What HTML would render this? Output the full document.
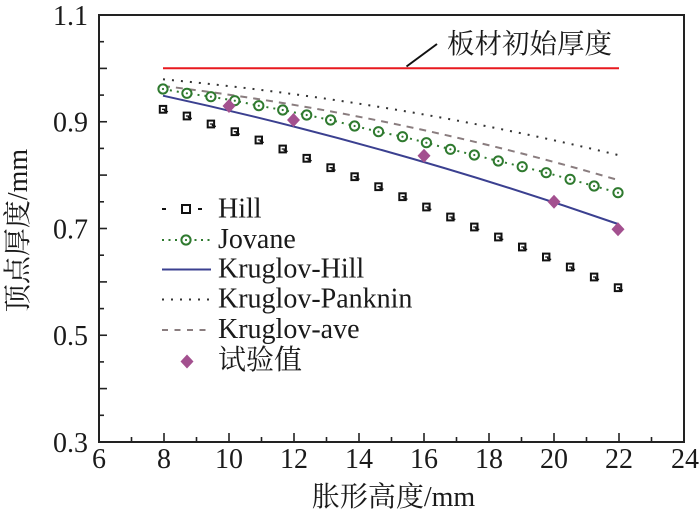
<!DOCTYPE html>
<html><head><meta charset="utf-8"><style>
html,body{margin:0;padding:0;background:#fff;}
svg{display:block;}
svg text{font-family:"Liberation Serif","Noto Serif CJK SC","DejaVu Serif",serif;fill:#1a1a1a;}
</style></head><body>
<svg width="700" height="517" viewBox="0 0 700 517" xmlns="http://www.w3.org/2000/svg" font-family="'Liberation Serif','Noto Serif CJK SC','DejaVu Serif',serif">
<rect width="700" height="517" fill="#fff"/>
<!-- red initial thickness line -->
<line x1="163" y1="68.3" x2="619" y2="68.3" stroke="#e8191f" stroke-width="2"/>
<line x1="406.5" y1="66.5" x2="437" y2="44" stroke="#111" stroke-width="2"/>
<text x="447" y="53" font-size="27.5">板材初始厚度</text>

<!-- Kruglov-Panknin dotted -->
<path d="M163,79.3 Q390.5,100.39 618,155" fill="none" stroke="#333" stroke-width="2" stroke-dasharray="2 7"/>
<!-- Kruglov-ave dashed -->
<path d="M163,86 Q390.5,113.12 618,180" fill="none" stroke="#8a7d7f" stroke-width="2" stroke-dasharray="7 6"/>
<!-- Kruglov-Hill solid -->
<path d="M163,95.7 Q390.5,145.14 618,224" fill="none" stroke="#3b4090" stroke-width="2"/>

<!-- Jovane dotted + circles -->
<g>
<polyline fill="none" stroke="#2f7a2f" stroke-width="2" stroke-dasharray="2 5" points="163,89 186.9,93.3 210.9,96.7 234.8,100.7 258.8,105.7 282.7,110 306.7,115 330.6,120 354.6,126 378.5,131.7 402.5,136.7 426.4,142.7 450.4,149.3 474.3,155 498.3,161 522.2,166.7 546.2,172.7 570.1,179.3 594.1,186 618,192.7"/>
<g fill="#fff" stroke="#2f7a2f" stroke-width="2">
<circle cx="163" cy="89" r="4.6"/><circle cx="186.9" cy="93.3" r="4.6"/><circle cx="210.9" cy="96.7" r="4.6"/><circle cx="234.8" cy="100.7" r="4.6"/><circle cx="258.8" cy="105.7" r="4.6"/><circle cx="282.7" cy="110" r="4.6"/><circle cx="306.7" cy="115" r="4.6"/><circle cx="330.6" cy="120" r="4.6"/><circle cx="354.6" cy="126" r="4.6"/><circle cx="378.5" cy="131.7" r="4.6"/><circle cx="402.5" cy="136.7" r="4.6"/><circle cx="426.4" cy="142.7" r="4.6"/><circle cx="450.4" cy="149.3" r="4.6"/><circle cx="474.3" cy="155" r="4.6"/><circle cx="498.3" cy="161" r="4.6"/><circle cx="522.2" cy="166.7" r="4.6"/><circle cx="546.2" cy="172.7" r="4.6"/><circle cx="570.1" cy="179.3" r="4.6"/><circle cx="594.1" cy="186" r="4.6"/><circle cx="618" cy="192.7" r="4.6"/>
</g>
<g fill="#2f7a2f">
<circle cx="163" cy="89" r="1.1"/><circle cx="186.9" cy="93.3" r="1.1"/><circle cx="210.9" cy="96.7" r="1.1"/><circle cx="234.8" cy="100.7" r="1.1"/><circle cx="258.8" cy="105.7" r="1.1"/><circle cx="282.7" cy="110" r="1.1"/><circle cx="306.7" cy="115" r="1.1"/><circle cx="330.6" cy="120" r="1.1"/><circle cx="354.6" cy="126" r="1.1"/><circle cx="378.5" cy="131.7" r="1.1"/><circle cx="402.5" cy="136.7" r="1.1"/><circle cx="426.4" cy="142.7" r="1.1"/><circle cx="450.4" cy="149.3" r="1.1"/><circle cx="474.3" cy="155" r="1.1"/><circle cx="498.3" cy="161" r="1.1"/><circle cx="522.2" cy="166.7" r="1.1"/><circle cx="546.2" cy="172.7" r="1.1"/><circle cx="570.1" cy="179.3" r="1.1"/><circle cx="594.1" cy="186" r="1.1"/><circle cx="618" cy="192.7" r="1.1"/>
</g>
</g>

<!-- Hill squares -->
<defs>
<g id="sq"><rect x="-3.2" y="-3.4" width="6.4" height="6.8" fill="#fff" stroke="#111" stroke-width="2"/><polyline points="-1,0 1.5,0 1.5,1.5 5,2.5" fill="none" stroke="#111" stroke-width="1.3"/></g>
<polygon id="dm" points="0,-7 6.5,0 0,7 -6.5,0" fill="#a3508f"/>
</defs>
<use href="#sq" x="163" y="109.3"/><use href="#sq" x="186.9" y="116"/><use href="#sq" x="210.9" y="124"/><use href="#sq" x="234.8" y="131.7"/><use href="#sq" x="258.8" y="140"/><use href="#sq" x="282.7" y="149"/><use href="#sq" x="306.7" y="158.3"/><use href="#sq" x="330.6" y="167.7"/><use href="#sq" x="354.6" y="176.7"/><use href="#sq" x="378.5" y="186.7"/><use href="#sq" x="402.5" y="196.7"/><use href="#sq" x="426.4" y="207"/><use href="#sq" x="450.4" y="217"/><use href="#sq" x="474.3" y="227"/><use href="#sq" x="498.3" y="237"/><use href="#sq" x="522.2" y="247"/><use href="#sq" x="546.2" y="257"/><use href="#sq" x="570.1" y="267"/><use href="#sq" x="594.1" y="277"/><use href="#sq" x="618" y="287.7"/>

<!-- experimental diamonds -->
<use href="#dm" x="229" y="106"/><use href="#dm" x="293.5" y="120"/><use href="#dm" x="424" y="155.7"/><use href="#dm" x="554" y="201.7"/><use href="#dm" x="618" y="229.3"/>

<!-- Axes frame -->
<rect x="99" y="15" width="585" height="427" fill="none" stroke="#222" stroke-width="2"/>
<!-- y ticks -->
<g stroke="#222" stroke-width="1.6">
<line x1="99" y1="442" x2="107" y2="442"/>
<line x1="99" y1="415.3" x2="104" y2="415.3"/>
<line x1="99" y1="388.6" x2="107" y2="388.6"/>
<line x1="99" y1="361.9" x2="104" y2="361.9"/>
<line x1="99" y1="335.25" x2="107" y2="335.25"/>
<line x1="99" y1="308.6" x2="104" y2="308.6"/>
<line x1="99" y1="281.9" x2="107" y2="281.9"/>
<line x1="99" y1="255.2" x2="104" y2="255.2"/>
<line x1="99" y1="228.5" x2="107" y2="228.5"/>
<line x1="99" y1="201.8" x2="104" y2="201.8"/>
<line x1="99" y1="175.1" x2="107" y2="175.1"/>
<line x1="99" y1="148.4" x2="104" y2="148.4"/>
<line x1="99" y1="121.75" x2="107" y2="121.75"/>
<line x1="99" y1="95.1" x2="104" y2="95.1"/>
<line x1="99" y1="68.4" x2="107" y2="68.4"/>
<line x1="99" y1="41.7" x2="104" y2="41.7"/>
</g>
<!-- x ticks -->
<g stroke="#222" stroke-width="1.6">
<line x1="131.5" y1="442" x2="131.5" y2="437"/>
<line x1="164" y1="442" x2="164" y2="433"/>
<line x1="196.5" y1="442" x2="196.5" y2="437"/>
<line x1="229" y1="442" x2="229" y2="433"/>
<line x1="261.5" y1="442" x2="261.5" y2="437"/>
<line x1="294" y1="442" x2="294" y2="433"/>
<line x1="326.5" y1="442" x2="326.5" y2="437"/>
<line x1="359" y1="442" x2="359" y2="433"/>
<line x1="391.5" y1="442" x2="391.5" y2="437"/>
<line x1="424" y1="442" x2="424" y2="433"/>
<line x1="456.5" y1="442" x2="456.5" y2="437"/>
<line x1="489" y1="442" x2="489" y2="433"/>
<line x1="521.5" y1="442" x2="521.5" y2="437"/>
<line x1="554" y1="442" x2="554" y2="433"/>
<line x1="586.5" y1="442" x2="586.5" y2="437"/>
<line x1="619" y1="442" x2="619" y2="433"/>
<line x1="651.5" y1="442" x2="651.5" y2="437"/>
</g>
<!-- y labels -->
<g font-size="28" text-anchor="end">
<text x="88" y="25">1.1</text>
<text x="88" y="131.5">0.9</text>
<text x="88" y="238.5">0.7</text>
<text x="88" y="345">0.5</text>
<text x="88" y="452">0.3</text>
</g>
<!-- x labels -->
<g font-size="28" text-anchor="middle">
<text x="99" y="468">6</text>
<text x="164" y="468">8</text>
<text x="229" y="468">10</text>
<text x="294" y="468">12</text>
<text x="359" y="468">14</text>
<text x="424" y="468">16</text>
<text x="489" y="468">18</text>
<text x="554" y="468">20</text>
<text x="619" y="468">22</text>
<text x="685" y="468">24</text>
</g>
<text x="393.5" y="506" font-size="28" text-anchor="middle">胀形高度/mm</text>
<text transform="translate(27,230.5) rotate(-90)" font-size="28" text-anchor="middle">顶点厚度/mm</text>

<!-- Legend -->
<g>
<line x1="162" y1="209" x2="166" y2="209" stroke="#111" stroke-width="2"/>
<line x1="198" y1="209" x2="202" y2="209" stroke="#111" stroke-width="2"/>
<rect x="182" y="205" width="8" height="8" fill="#fff" stroke="#111" stroke-width="2"/>
<line x1="162" y1="240" x2="211" y2="240" stroke="#2f7a2f" stroke-width="2" stroke-dasharray="2 4.5"/>
<circle cx="186" cy="240" r="4.6" fill="#fff" stroke="#2f7a2f" stroke-width="2"/>
<circle cx="186" cy="240" r="1.1" fill="#2f7a2f"/>
<line x1="162" y1="269.5" x2="211" y2="269.5" stroke="#3b4090" stroke-width="2"/>
<line x1="162" y1="299.5" x2="211" y2="299.5" stroke="#333" stroke-width="2" stroke-dasharray="2 7"/>
<line x1="162" y1="330" x2="211" y2="330" stroke="#8a7d7f" stroke-width="2" stroke-dasharray="6 6.5"/>
<use href="#dm" x="187" y="361.5"/>
</g>
<g font-size="28">
<text x="218" y="217.5">Hill</text>
<text x="218" y="248">Jovane</text>
<text x="218" y="277.5">Kruglov-Hill</text>
<text x="218" y="307.5">Kruglov-Panknin</text>
<text x="218" y="338">Kruglov-ave</text>
<text x="218" y="369">试验值</text>
</g>
</svg>
</body></html>
